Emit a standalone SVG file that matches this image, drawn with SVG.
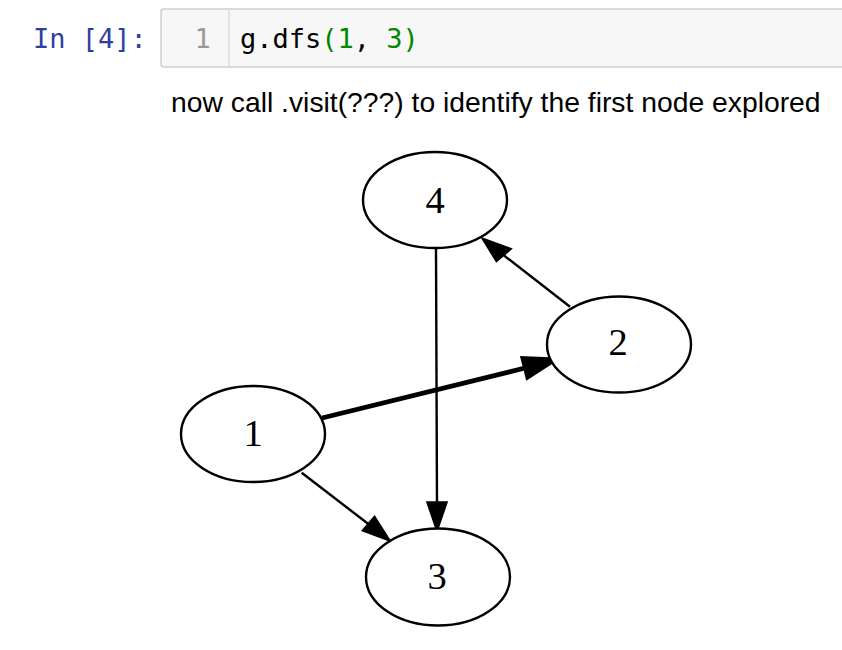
<svg xmlns="http://www.w3.org/2000/svg" width="842" height="650" viewBox="0 0 842 650">
<style>
.prompt{font-family:"DejaVu Sans Mono","Liberation Mono",monospace;font-size:27px;fill:#303F9F}
.code{font-family:"DejaVu Sans Mono","Liberation Mono",monospace;font-size:27px;fill:#000}
.num{fill:#008800}
.lineno{font-family:"DejaVu Sans Mono","Liberation Mono",monospace;font-size:27px;fill:#999}
.note{font-family:"Liberation Sans",Arial,sans-serif;font-size:28.3px;fill:#000}
.node ellipse{fill:#fff;stroke:#000;stroke-width:2.4}
.node text{font-family:"Liberation Serif","Times New Roman",serif;font-size:38.5px;fill:#000;text-anchor:middle}
.edge line{stroke:#000;stroke-width:2.4}
.edge polygon{fill:#000;stroke:#000;stroke-width:2.4;stroke-linejoin:miter}
.bold line{stroke-width:4.8}
.bold polygon{stroke-width:4}
</style>
<rect width="842" height="650" fill="#fff"/>
<g id="cell">
<text class="prompt" x="33" y="48" xml:space="preserve">In [4]:</text>
<rect x="161" y="9" width="700" height="58" rx="3" fill="#f7f7f7" stroke="#cfcfcf" stroke-width="1.5"/>
<line x1="229" y1="9.5" x2="229" y2="66.5" stroke="#dddddd" stroke-width="1.5"/>
<text class="lineno" x="194.5" y="48">1</text>
<text class="code" x="240" y="48" xml:space="preserve">g.dfs<tspan class="num">(1</tspan>, <tspan class="num">3)</tspan></text>
</g>
<text class="note" x="171" y="112">now call .visit(???) to identify the first node explored</text>
<g id="edges">
<g class="edge" id="e4-3">
<line x1="436" y1="249" x2="437" y2="503"/>
<polygon points="437,530 427.5,502.5 446.5,502.5"/>
</g>
<g class="edge" id="e2-4">
<line x1="570" y1="306.7" x2="504" y2="255.5"/>
<polygon points="483,239 510.5,249 496.5,261"/>
</g>
<g class="edge bold" id="e1-2">
<line x1="322" y1="418" x2="525" y2="368"/>
<polygon points="555.5,359.5 522.5,358 527.5,377.5"/>
</g>
<g class="edge" id="e1-3">
<line x1="301.7" y1="472.7" x2="369" y2="524.5"/>
<polygon points="389.5,540.5 363,530.5 374.5,517"/>
</g>
</g>
<g class="node" id="n4"><ellipse cx="435" cy="200" rx="72" ry="48"/><text x="435" y="213">4</text></g>
<g class="node" id="n2"><ellipse cx="619" cy="344.5" rx="72" ry="48"/><text x="618" y="355">2</text></g>
<g class="node" id="n1"><ellipse cx="253" cy="434" rx="72" ry="48"/><text x="253" y="446">1</text></g>
<g class="node" id="n3"><ellipse cx="438" cy="577" rx="72" ry="48.5"/><text x="437" y="589">3</text></g>
</svg>
